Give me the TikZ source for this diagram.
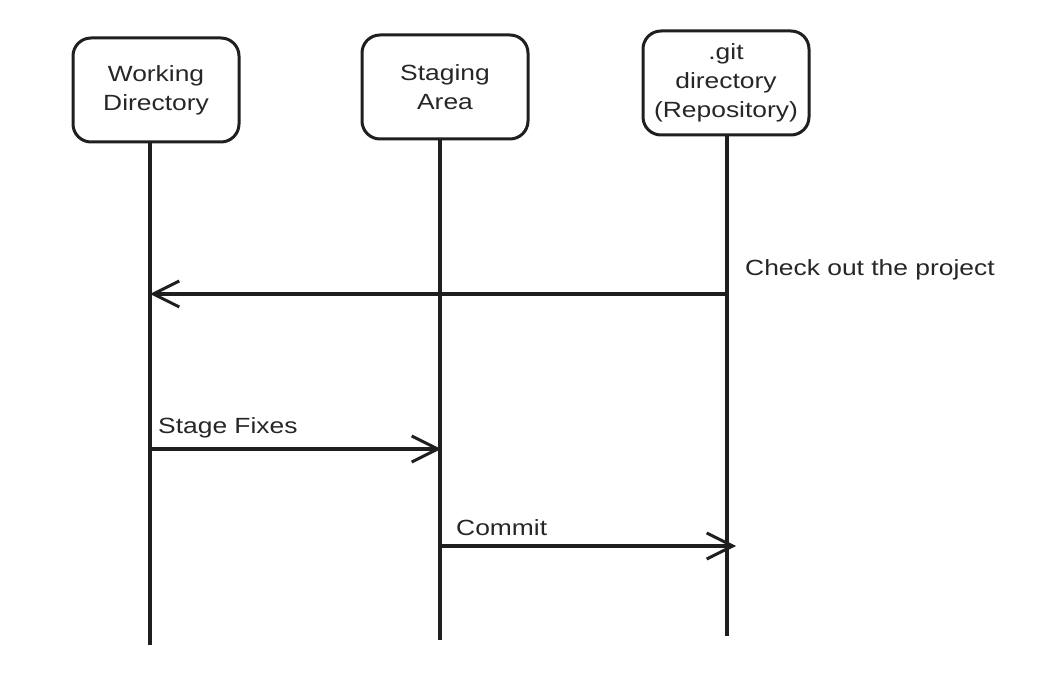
\documentclass[tikz,border=0pt]{standalone}
\usepackage{fontspec}
\setmainfont[FakeStretch=1.2]{Liberation Sans}
\usetikzlibrary{arrows.meta}
\begin{document}
\begin{tikzpicture}[x=1pt,y=-1pt,
  actor/.style={draw=black!88,line width=3pt,rounded corners=18pt,minimum width=166pt,minimum height=104pt,align=center,font=\fontsize{22}{29}\selectfont,text=black!85},
  life/.style={draw=black!88,line width=3.2pt},
  msg/.style={draw=black!88,line width=3.2pt,-{Straight Barb[length=26pt,width=26pt,line width=3pt]}},
  lbl/.style={font=\fontsize{22}{26}\selectfont,text=black!85,inner sep=0pt}]
\useasboundingbox (0,0) rectangle (1061,692);
\node[actor] (wd) at (156,90) {Working\\Directory};
\node[actor] (sa) at (445,87) {Staging\\Area};
\node[actor] (gd) at (726,83) {.git\\directory\\(Repository)};
\coordinate (wdEnd) at (150,645);
\coordinate (saEnd) at (440,640);
\coordinate (gdEnd) at (727,636);
\draw[life] (wd.south -| wdEnd) -- (wdEnd);
\draw[life] (sa.south -| saEnd) -- (saEnd);
\draw[life] (gd.south -| gdEnd) -- (gdEnd);
\coordinate (c1) at (727,294);
\coordinate (c2) at (150,294);
\draw[msg] (c1) -- (c2);
\node[lbl,anchor=west] (t1) at (745,270) {Check out the project};
\coordinate (s1) at (150,449);
\coordinate (s2) at (441,449);
\draw[msg] (s1) -- (s2);
\node[lbl,anchor=west] (t2) at (158,428) {Stage Fixes};
\coordinate (m1) at (440,546);
\coordinate (m2) at (736,546);
\draw[msg] (m1) -- (m2);
\node[lbl,anchor=west] (t3) at (456,528) {Commit};
\end{tikzpicture}
\end{document}
